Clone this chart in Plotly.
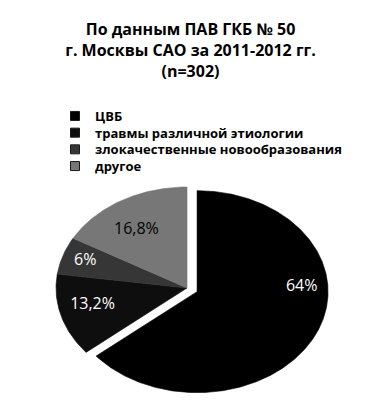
import numpy as np
import plotly.graph_objects as go

# Data
categories = ["ЦВБ", "травмы различной этиологии", "злокачественные новообразования", "другое"]
values = [64, 13.2, 6, 16.8]

# Styling
slice_colors = ["#000000", "#0e0e0e", "#363636", "#777777"]
label_colors = ["white", "white", "white", "black"]
explode = [0.085, 0, 0, 0]
label_radius = [0.80, 0.74, 0.82, 0.69]
label_turn = [-28.5, 2.8, 0.0, -3.8]   # degrees, relative to slice bisector

W, H = 381, 409
TOP = 180                 # plot area starts here (px)
CX, CY = 187, 288         # pie centre (px)
RX, RY = 131, 101         # pie radii (px) -> elliptical look via axis scaling

x_range = [-CX / RX, (W - CX) / RX]
y_range = [-(H - CY) / RY, (CY - TOP) / RY]

fig = go.Figure()

total = float(sum(values))
start = 0.0
label_x, label_y, label_txt = [], [], []
for i, (cat, v) in enumerate(zip(categories, values)):
    sweep = 360.0 * v / total
    a0, a1 = start, start + sweep
    mid = np.radians((a0 + a1) / 2)
    ox, oy = explode[i] * np.sin(mid), explode[i] * np.cos(mid)
    ang = np.radians(np.linspace(a0, a1, max(8, int(sweep * 2))))
    xs = np.concatenate([[ox], ox + np.sin(ang), [ox]])
    ys = np.concatenate([[oy], oy + np.cos(ang), [oy]])
    fig.add_trace(go.Scatter(
        x=xs, y=ys, mode="lines", fill="toself",
        fillcolor=slice_colors[i],
        line=dict(color=slice_colors[i], width=0.6),
        hoverinfo="skip", showlegend=False,
    ))
    la = mid + np.radians(label_turn[i])
    label_x.append(ox + label_radius[i] * np.sin(la))
    label_y.append(oy + label_radius[i] * np.cos(la))
    label_txt.append(f"{v:g}".replace(".", ",") + "%")
    start = a1

fig.add_trace(go.Scatter(
    x=label_x, y=label_y, mode="text", text=label_txt,
    textfont=dict(family="Open Sans", size=16, color=label_colors),
    hoverinfo="skip", showlegend=False,
))

# Legend: one small legend box per entry so rows sit 16.7 px apart
LEG_FIRST_ROW = 115
LEG_ROW_STEP = 16.7
legend_font = dict(family="Open Sans", size=13, color="black", weight="bold")
legend_boxes = {}
for i, cat in enumerate(categories):
    key = "legend" if i == 0 else f"legend{i + 1}"
    fig.add_trace(go.Scatter(
        x=[None], y=[None], mode="markers", name=cat, legend=key,
        marker=dict(symbol="square", size=9, color=slice_colors[i],
                    line=dict(color="#1a1a1a", width=1)),
    ))
    row_top = LEG_FIRST_ROW + i * LEG_ROW_STEP - 14
    legend_boxes[key] = dict(
        x=55 / W, xanchor="left",
        y=1 + (TOP - row_top) / (H - TOP), yanchor="top",
        font=legend_font, bgcolor="rgba(0,0,0,0)",
    )

fig.update_layout(
    width=W, height=H,
    margin=dict(l=0, r=0, t=TOP, b=0),
    paper_bgcolor="white", plot_bgcolor="white",
    title=dict(
        text="По данным ПАВ ГКБ № 50<br>г. Москвы САО за 2011-2012 гг.<br>(n=302)",
        x=0.5, xanchor="center", xref="paper",
        y=1 - 35 / H, yanchor="top", yref="container",
        font=dict(family="Open Sans", size=16, color="black", weight="bold"),
    ),
    xaxis=dict(range=x_range, visible=False, fixedrange=True),
    yaxis=dict(range=y_range, visible=False, fixedrange=True),
    showlegend=True,
    **legend_boxes,
)

fig.write_html("out.html")
